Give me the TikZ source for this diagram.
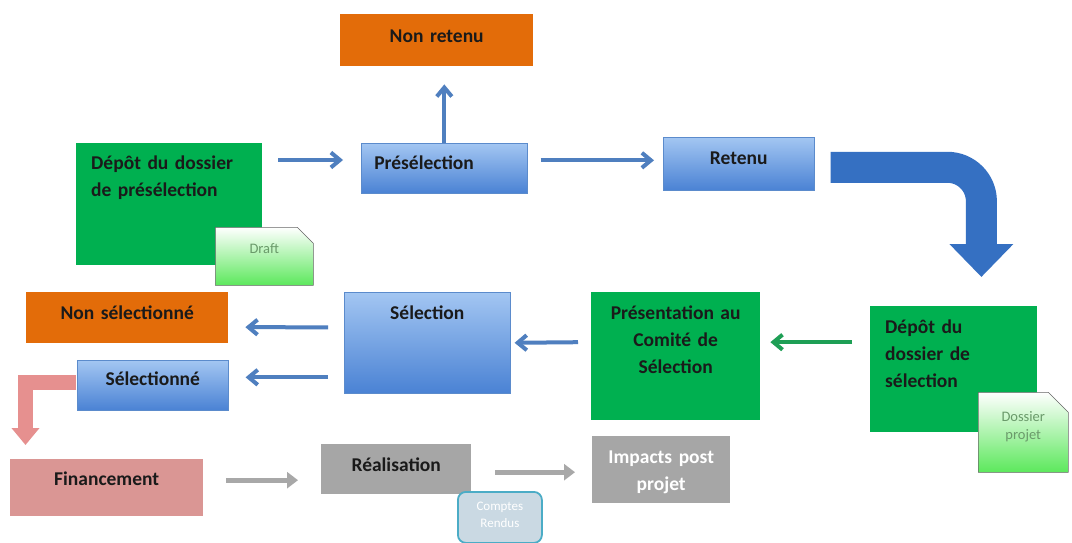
\documentclass[tikz,border=0pt]{standalone}
\usepackage{fontspec}
\setmainfont{Carlito}
\usetikzlibrary{arrows.meta,calc,shapes.misc}

\definecolor{orangeb}{HTML}{E36C09}
\definecolor{greenb}{HTML}{00B050}
\definecolor{bluetop}{HTML}{A3C6F2}
\definecolor{bluebot}{HTML}{4A82D4}
\definecolor{blueline}{HTML}{5B8BCC}
\definecolor{pinkb}{HTML}{DA9694}
\definecolor{grayb}{HTML}{A6A6A6}
\definecolor{arrblue}{HTML}{4F7FBF}
\definecolor{arrgreen}{HTML}{1E9F55}
\definecolor{arrgray}{HTML}{A8A8A8}
\definecolor{bigblue}{HTML}{3570C2}
\definecolor{arrpink}{HTML}{E6908F}
\definecolor{docgreen}{HTML}{5CE85C}
\definecolor{doctext}{HTML}{6A9A6A}
\definecolor{crfill}{HTML}{CAD9E3}
\definecolor{crline}{HTML}{4BACC6}
\definecolor{textb}{HTML}{1A1A1A}

\tikzset{
  box/.style={rectangle, inner sep=0pt, anchor=north west, text=textb,
    font=\bfseries\fontsize{19.5}{27}\selectfont},
  greenbox/.style={box, fill=greenb},
  orangebox/.style={box, fill=orangeb},
  bluebox/.style={box, top color=bluetop, bottom color=bluebot, draw=blueline, line width=0.6pt},
  pinkbox/.style={box, fill=pinkb},
  graybox/.style={box, fill=grayb},
  docgreen/.style={chamfered rectangle, chamfered rectangle corners=north east,
    chamfered rectangle xsep=8pt, chamfered rectangle ysep=8pt, inner sep=0pt,
    anchor=north west, draw=black!60, line width=0.5pt, top color=white, bottom color=docgreen,
    text=doctext, align=center, font=\fontsize{14.5}{18}\selectfont},
  doccr/.style={rectangle, rounded corners=8pt, inner sep=0pt, anchor=north west,
    draw=crline, line width=1.8pt, fill=crfill, text=white, align=center,
    font=\fontsize{13}{17}\selectfont},
  bluearrow/.style={draw=arrblue, line width=4pt, -{Straight Barb[length=9pt,width=15pt]}},
  greenarrow/.style={draw=arrgreen, line width=4pt, -{Straight Barb[length=9pt,width=15pt]}},
  grayarrow/.style={draw=arrgray, line width=5pt, -{Triangle[length=11pt,width=16pt]}},
  bigarrow/.style={draw=bigblue, line width=31pt, rounded corners=34pt, -{Triangle[length=33pt,width=62pt]}},
  pinkarrow/.style={draw=arrpink, line width=15pt, -{Triangle[length=17pt,width=27pt]}}
}

\begin{document}
\begin{tikzpicture}[x=1pt,y=-1pt]
  \useasboundingbox[fill=white] (0,0) rectangle (1072,543);

  % top row
  \node[orangebox, minimum width=193pt, text width=193pt, align=center,
    text height=28.5pt, text depth=23.5pt] (nonretenu) at (340,14) {Non retenu};
  \node[greenbox, minimum width=186pt, text width=156pt, align=left,
    text height=26pt, text depth=96pt] (depot1) at (76,143) {Dépôt du dossier\\de présélection};
  \node[docgreen, text width=82pt, text height=18pt, text depth=24pt] (draft) at (215,227) {Draft};
  \node[bluebox, minimum width=166pt, text width=140pt, align=left,
    text height=26pt, text depth=24pt] (presel) at (361,143) {Présélection};
  \node[bluebox, minimum width=151pt, text width=151pt, align=center,
    text height=27.5pt, text depth=25.5pt] (retenu) at (663,137) {Retenu};

  % middle row
  \node[orangebox, minimum width=202pt, text width=202pt, align=center,
    text height=27.5pt, text depth=23.5pt] (nonsel) at (26,292) {Non sélectionné};
  \node[bluebox, minimum width=151pt, text width=151pt, align=center,
    text height=25.5pt, text depth=24.5pt] (selne) at (77,360) {Sélectionné};
  \node[bluebox, minimum width=166pt, text width=166pt, align=center,
    text height=27.5pt, text depth=73.5pt] (sel) at (344,292) {Sélection};
  \node[greenbox, minimum width=169pt, text width=169pt, align=center,
    text height=27.5pt, text depth=100.5pt] (pres) at (591,292) {Présentation au\\Comité de\\Sélection};
  \node[greenbox, minimum width=167pt, text width=137pt, align=left,
    text height=27.5pt, text depth=98.5pt] (depot2) at (870,306) {Dépôt du\\dossier de\\sélection};
  \node[docgreen, chamfered rectangle xsep=10pt, chamfered rectangle ysep=10pt,
    text width=70pt, text height=19pt, text depth=41pt] (dossier) at (978,392) {Dossier\\projet};

  % bottom row
  \node[pinkbox, minimum width=193pt, text width=193pt, align=center,
    text height=26.5pt, text depth=30.5pt] (fin) at (10,459) {Financement};
  \node[graybox, minimum width=150pt, text width=150pt, align=center,
    text height=27.5pt, text depth=22.5pt] (real) at (321,444) {Réalisation};
  \node[doccr, minimum width=84pt, minimum height=51pt, text width=84pt,
    text height=19pt, text depth=32pt] (comptes) at (457,491) {Comptes\\Rendus};
  \node[graybox, text=white, minimum width=138pt, text width=138pt, align=center,
    text height=27pt, text depth=40pt] (impacts) at (592,436) {Impacts post\\projet};

  % connectors
  \draw[bluearrow] ($(depot1.north east)+(16,17)$) -- ($(presel.north west)+(-18,17)$);
  \draw[bluearrow] (presel.north) -- ($(presel.north |- nonretenu.south)+(0,18)$);
  \draw[bluearrow] ($(presel.east)+(13,-8)$) -- ($(retenu.west)+(-9,-3.5)$);
  \draw[bigarrow] ($(retenu.east)+(16,3.5)$) -| ($(depot2.north east)+(-56,-29)$);
  \draw[greenarrow] ($(depot2.west)+(-18,-27)$) -- ($(pres.east)+(10,-14)$);
  \draw[bluearrow] ($(pres.west)+(-13,-14)$) -- ($(sel.east)+(4,0)$);
  \draw[bluearrow] ($(sel.west)+(-16,-15.5)$) -- ($(nonsel.east)+(17,9.5)$);
  \draw[bluearrow] ($(sel.west)+(-16,34.5)$) -- ($(selne.east)+(17,-8)$);
  \draw[pinkarrow] ($(selne.west)+(-1,-2.5)$) -| ($(fin.north west)+(15.5,-14)$);
  \draw[grayarrow] ($(fin.east)+(23,-7.5)$) -- ($(real.west)+(-23,11)$);
  \draw[grayarrow] ($(real.east)+(24,3)$) -- ($(impacts.west)+(-17,2.5)$);
\end{tikzpicture}
\end{document}
